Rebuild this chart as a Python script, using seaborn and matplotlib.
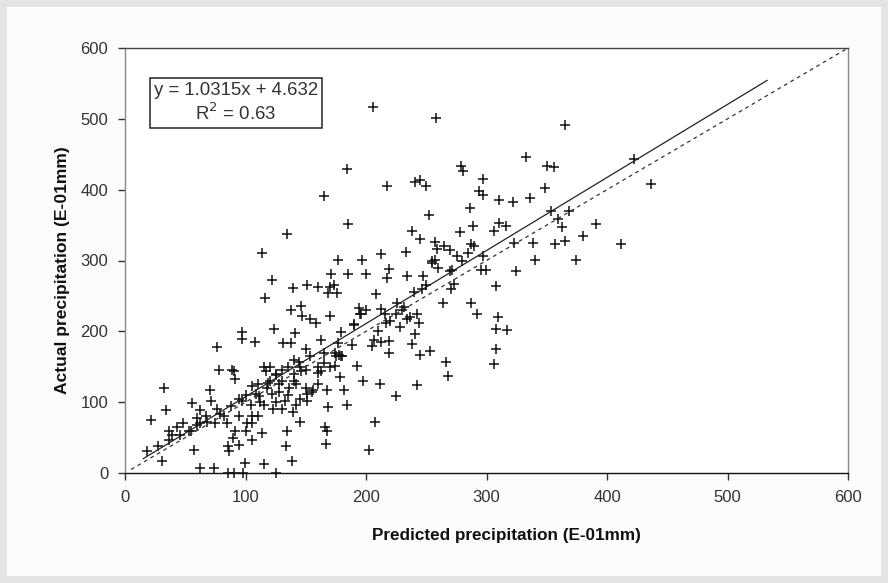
import numpy as np
import pandas as pd
import matplotlib
matplotlib.use("Agg")
import matplotlib.pyplot as plt
import seaborn as sns
from matplotlib.patches import Rectangle

# ---- data ----
predicted = [
    205.8, 257.7, 364.8, 422.8, 436.4, 411.6, 390.6, 374.6, 380.3, 332.6,
    349.9, 355.8, 348.5, 335.8, 353.6, 368.6, 359.2, 363.0, 357.0, 364.8,
    338.2, 340.5, 323.2, 324.2, 321.8, 310.1, 310.1, 306.3, 316.2, 297.5,
    293.7, 297.5, 279.2, 280.6, 286.3, 289.0, 286.8, 278.3, 275.9, 297.0,
    299.8, 295.6, 286.8, 292.5, 308.2, 309.2, 308.2, 316.6, 308.2, 306.3,
    272.7, 270.8, 271.3, 269.4, 263.8, 266.6, 268.0, 252.9, 244.6, 242.3,
    244.1, 240.9, 238.5, 236.2, 242.3, 233.9, 246.7, 247.7, 233.9, 232.9,
    238.5, 245.1, 252.6, 240.9, 244.6, 250.2, 257.2, 258.7, 257.2, 254.8,
    217.5, 184.2, 165.1, 184.9, 134.7, 113.6, 176.8, 196.5, 200.2, 185.2,
    171.2, 173.5, 212.7, 219.4, 217.5, 208.2, 176.3, 168.8, 169.8, 160.4,
    151.0, 139.4, 122.1, 116.5, 137.6, 146.0, 147.0, 153.4, 158.1, 169.8,
    194.1, 195.5, 212.7, 215.5, 216.5, 219.4, 218.9, 212.7, 207.0, 189.8,
    179.1, 177.7, 179.1, 174.5, 165.1, 162.8, 140.8, 138.0, 131.0, 123.9,
    108.1, 97.3, 97.3, 76.2, 77.6, 89.2, 91.1, 116.8, 127.6, 121.6,
    115.5, 105.0, 108.6, 97.3, 101.0, 105.0, 113.6, 115.5, 99.6, 98.2,
    85.6, 90.3, 73.9, 62.2, 57.5, 52.9, 43.5, 36.9, 36.5, 30.9,
    27.1, 21.5, 18.2, 34.1, 32.7, 55.2, 62.2, 62.2, 70.6, 71.6,
    78.5, 84.7, 85.6, 86.5, 90.3, 91.2, 105.2, 122.6, 130.0, 141.7,
    139.4, 145.0, 134.7, 133.8, 138.5, 125.4, 166.5, 167.4, 166.0, 168.8,
    167.4, 160.4, 155.7, 151.0, 151.0, 146.4, 144.0, 153.4, 174.5, 178.3,
    181.6, 183.9, 192.7, 197.8, 202.5, 207.2, 211.9, 225.0, 176.8, 162.8,
    141.7, 135.7, 132.4, 125.4, 118.6, 111.3, 104.3, 95.0, 76.2, 66.9,
    59.9, 48.2, 45.8, 38.8, 225.9, 231.6, 228.3, 188.4,
    100, 110, 120, 125, 130, 135, 140, 145, 150, 155,
    150, 140, 128, 118, 112, 95, 88, 82, 75, 68,
    60, 55, 140, 150, 160, 165, 130, 125, 110, 100,
    90, 95, 105, 115, 120, 135, 145, 160, 170, 175,
    180, 190, 195, 200, 205, 210, 220, 225, 230, 240,
    250, 255, 260, 265, 270, 280, 285, 290,
]
actual = [
    516.5, 501.8, 491.9, 444.0, 407.8, 323.0, 351.5, 301.0, 334.7, 446.0,
    433.5, 431.4, 402.5, 388.9, 370.5, 370.5, 358.9, 346.8, 323.7, 327.4,
    324.8, 301.0, 324.8, 285.3, 382.6, 385.2, 353.6, 342.0, 348.4, 415.1,
    398.3, 393.0, 434.0, 426.2, 374.7, 348.4, 323.7, 340.5, 306.4, 306.4,
    286.9, 286.9, 240.7, 224.9, 264.3, 219.7, 203.9, 201.3, 175.0, 154.0,
    267.0, 259.1, 286.9, 315.3, 240.2, 156.6, 137.2, 172.4, 167.1, 124.0,
    211.8, 196.0, 181.8, 219.7, 224.9, 218.1, 260.1, 277.5, 277.5, 311.6,
    341.0, 330.0, 364.0, 411.5, 414.0, 404.6, 326.3, 316.9, 301.0, 295.8,
    404.6, 429.8, 390.4, 351.0, 337.9, 310.0, 301.0, 301.0, 281.1, 281.6,
    281.6, 265.9, 308.5, 288.0, 274.8, 252.8, 253.8, 253.8, 262.7, 262.7,
    265.4, 261.7, 272.2, 247.5, 229.6, 235.4, 222.3, 217.0, 211.8, 222.3,
    232.8, 224.9, 231.7, 224.9, 211.8, 186.5, 169.7, 185.5, 188.1, 209.1,
    199.7, 167.1, 164.5, 169.7, 169.7, 188.1, 197.6, 182.9, 182.9, 203.9,
    185.5, 198.6, 189.7, 177.6, 145.0, 146.1, 133.0, 143.5, 125.1, 111.9,
    96.2, 122.4, 111.9, 101.4, 69.9, 46.2, 56.8, 12.1, 14.7, 0.0,
    0.0, 0.0, 6.8, 6.8, 33.1, 59.4, 64.6, 59.4, 46.2, 17.3,
    38.4, 75.1, 30.5, 88.3, 119.8, 98.8, 88.3, 69.9, 117.2, 101.4,
    83.0, 69.9, 38.4, 30.5, 143.5, 59.4, 80.4, 90.9, 90.9, 96.2,
    85.7, 72.5, 59.4, 38.4, 17.3, 0.0, 41.0, 59.4, 64.6, 93.5,
    117.2, 140.8, 117.2, 111.9, 101.4, 143.5, 156.6, 164.5, 151.3, 135.6,
    117.2, 96.2, 151.3, 130.3, 33.1, 72.5, 125.1, 109.3, 182.9, 143.5,
    125.1, 119.8, 101.4, 138.2, 127.7, 109.3, 96.2, 80.4, 90.9, 80.4,
    77.8, 69.9, 54.1, 54.1, 240.7, 233.8, 206.5, 180.2,
    110, 125, 130, 140, 145, 150, 140, 150, 120, 115,
    145, 130, 115, 120, 100, 105, 95, 80, 70, 72,
    68, 60, 160, 175, 150, 155, 130, 100, 80, 60,
    50, 40, 70, 150, 150, 110, 105, 125, 150, 165,
    165, 210, 225, 230, 180, 200, 215, 225, 230, 255,
    265, 300, 290, 320, 285, 300, 310, 320,
]
slope, intercept = 1.0315, 4.632
fit_x = [15, 533]
one_to_one = [5, 600]
xticks = [0, 100, 200, 300, 400, 500, 600]
yticks = [0, 100, 200, 300, 400, 500, 600]

df = pd.DataFrame({"Predicted": predicted, "Actual": actual})

sns.set_theme(style="white")
plt.rcParams["font.family"] = ["Liberation Sans", "DejaVu Sans"]

W, H = 888, 583
fig = plt.figure(figsize=(W / 100, H / 100), dpi=100)
fig.patch.set_facecolor("#fcfcfc")
# gray outer frame
fig.patches.append(Rectangle((0, 0), 1, 1, transform=fig.transFigure,
                             fill=False, edgecolor="#e4e4e4", linewidth=10, zorder=0))

ax = fig.add_axes([125 / W, 1 - 473 / H, (848 - 125) / W, (473 - 48) / H])
ax.set_facecolor("white")

sns.scatterplot(data=df, x="Predicted", y="Actual", marker="+", s=50,
                color="#111111", linewidth=1.1, ax=ax, zorder=3, clip_on=False)

fx = np.array(fit_x, dtype=float)
sns.lineplot(x=fx, y=slope * fx + intercept, color="#222222", linewidth=0.9, ax=ax, zorder=4)
ox = np.array(one_to_one, dtype=float)
ax.plot(ox, ox, linestyle=(0, (3, 3)), color="#333333", linewidth=0.9, zorder=4)

ax.set_xlim(0, 600)
ax.set_ylim(0, 600)
ax.set_xticks(xticks)
ax.set_yticks(yticks)
ax.tick_params(axis="both", direction="out", length=5, width=1, color="#333333",
               labelsize=12, labelcolor="#333333", pad=7, bottom=True, left=True)
for s in ["top", "right", "left", "bottom"]:
    ax.spines[s].set_visible(True)
    ax.spines[s].set_linewidth(1.0)
ax.spines["bottom"].set_color("#111111")
ax.spines["top"].set_color("#444444")
ax.spines["left"].set_color("#888888")
ax.spines["right"].set_color("#888888")

ax.set_xlabel("Predicted precipitation (E-01mm)", fontsize=12.3, fontweight="bold",
              color="#111111")
ax.set_ylabel("Actual precipitation (E-01mm)", fontsize=12.6, fontweight="bold",
              color="#111111")
ax.xaxis.set_label_coords(0.527, -0.148)
ax.yaxis.set_label_coords(-0.087, 0.478)
ax.xaxis.label.set_verticalalignment("center")
ax.yaxis.label.set_verticalalignment("center")

ax.text(0.1535, 0.8706, "y = 1.0315x + 4.632\nR$^2$ = 0.63", transform=ax.transAxes,
        ha="center", va="center", fontsize=13.4, color="#333333", linespacing=1.22,
        bbox=dict(boxstyle="square,pad=0.2", facecolor="white", edgecolor="#222222", linewidth=1.1),
        zorder=6)

fig.savefig("out.png", dpi=100, facecolor=fig.get_facecolor())
